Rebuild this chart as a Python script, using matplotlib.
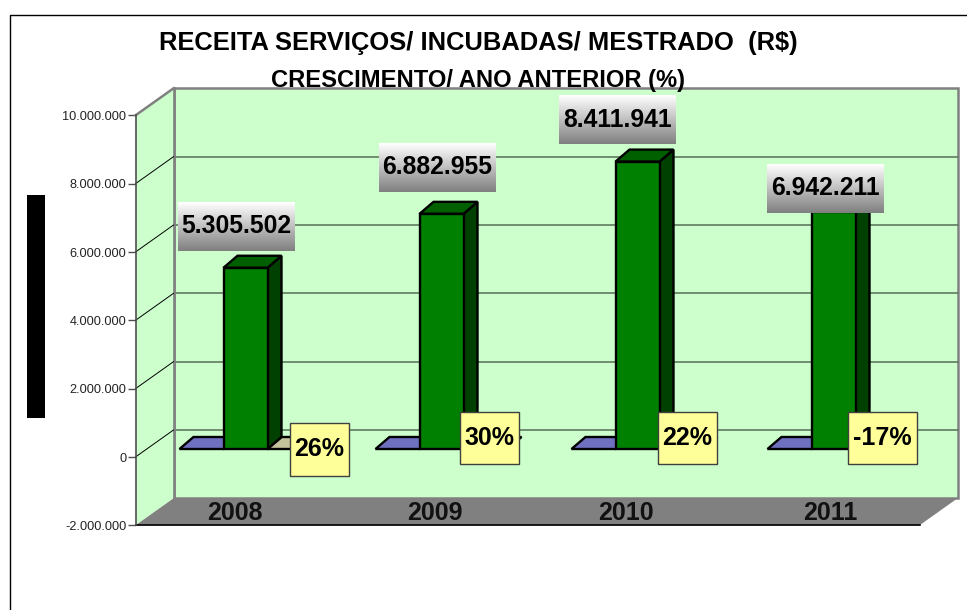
import matplotlib
matplotlib.use("Agg")
import matplotlib.pyplot as plt
import numpy as np
from matplotlib.patches import Polygon, Rectangle
from matplotlib.ticker import FuncFormatter
from matplotlib.transforms import Affine2D

plt.rcParams['font.family'] = ['Liberation Sans', 'DejaVu Sans']

years = ["2008", "2009", "2010", "2011"]
receita = [5305502, 6882955, 8411941, 6942211]
crescimento = [26, 30, 22, -17]
flat_series = [0, 0, 0, 0]  # the two other series are next to nothing on this scale
y_ticks = [-2000000, 0, 2000000, 4000000, 6000000, 8000000, 10000000]

W, H = 967, 610
PX_X = 1 / 196.0        # category units per pixel
PX_Y = 2000000 / 68.33  # reais per pixel

fig = plt.figure(figsize=(W / 100, H / 100), dpi=100)
ax = fig.add_axes([0, 0, 1, 1], facecolor="white")
left = -0.5 - 135.5 * PX_X
ax.set_xlim(left, left + W * PX_X)
ax.set_ylim((457 - H) * PX_Y, 457 * PX_Y)

# depth offsets, pixels
back = ax.transData + Affine2D().translate(38, 27)
mid = ax.transData + Affine2D().translate(12, 8)
BW = 44 * PX_X
BDX, BDY = 14 * PX_X, 12 * PX_Y
EDGE = 1.7


def poly(pts, fc, ec="none", lw=0, z=1, tr=None):
    ax.add_patch(Polygon(pts, closed=True, fc=fc, ec=ec, lw=lw, zorder=z,
                         transform=tr if tr is not None else ax.transData,
                         joinstyle="miter"))


x0, x1 = -0.5, 3.5
y0, y1 = -2000000, 10000000
DX, DY = 38 * PX_X, 27 * PX_Y

# walls and floor
poly([(x0, y0), (x1, y0), (x1, y1), (x0, y1)], "#CCFFCC", "#808080", 1.8, 1, back)
poly([(x0, y0), (x0 + DX, y0 + DY), (x0 + DX, y1 + DY), (x0, y1)], "#CCFFCC", z=1.5)
ax.plot([x0, x0 + DX], [y1, y1 + DY], color="#808080", lw=1.8, zorder=2)
ax.plot([x0 + DX, x0 + DX], [y0 + DY, y1 + DY], color="#808080", lw=1.8, zorder=2)
for t in y_ticks[1:-1]:
    ax.plot([x0, x1], [t, t], color="#5f7a5f", lw=1.2, zorder=1.2, transform=back)
    ax.plot([x0, x0 + DX], [t, t + DY], color="black", lw=0.7, zorder=2)
poly([(x0, y0), (x1, y0), (x1 + DX, y0 + DY), (x0 + DX, y0 + DY)], "#808080", z=2.5)
ax.plot([x0, x1], [y0, y0], color="black", lw=1.2, zorder=2.6)

# bars
for i, v in enumerate(receita):
    a = i - BW / 2
    b = i + BW / 2
    # flat purple and tan series on either side
    pa = a - BW
    poly([(pa, flat_series[i]), (a, flat_series[i]), (a + BDX, flat_series[i] + BDY),
          (pa + BDX, flat_series[i] + BDY)], "#7070C0", "black", EDGE, 3, mid)
    tb = b + BW
    poly([(b, flat_series[i]), (tb, flat_series[i]), (tb + BDX, flat_series[i] + BDY),
          (b + BDX, flat_series[i] + BDY)], "#C4C49C", "black", EDGE, 3, mid)
    # green bar: side, top, front
    poly([(b, 0), (b + BDX, BDY), (b + BDX, v + BDY), (b, v)], "#004000", "black", EDGE, 4, mid)
    poly([(a, v), (b, v), (b + BDX, v + BDY), (a + BDX, v + BDY)], "#006000", "black", EDGE, 4, mid)
    poly([(a, 0), (b, 0), (b, v), (a, v)], "#008000", "black", EDGE, 4.1, mid)

# y axis on the front edge of the side wall
for s in ["top", "right", "bottom"]:
    ax.spines[s].set_visible(False)
ax.spines["left"].set_position(("data", x0))
ax.spines["left"].set_bounds(y0, y1)
ax.spines["left"].set_color("#505050")
ax.spines["left"].set_linewidth(1.2)
ax.spines["left"].set_zorder(3)
ax.set_xticks([])
ax.set_yticks(y_ticks)
ax.yaxis.set_major_formatter(FuncFormatter(lambda v, p: f"{v:,.0f}".replace(",", ".")))
ax.tick_params(axis="y", length=6, width=1, color="#505050", pad=0.5, labelsize=9.2,
               labelcolor="#222222")

# value labels, offsets in pixels from the top of each bar
label_dx = [-9, -4, -20, -8]
label_dy = [17, 22, 17.6, -1]
grad = np.linspace(1, 0.5, 64).reshape(-1, 1)
for i, v in enumerate(receita):
    cx = i + (12 + label_dx[i]) * PX_X
    lo = v + (8 + label_dy[i]) * PX_Y
    hi = lo + 49 * PX_Y
    hw = 58.5 * PX_X
    ax.imshow(grad, cmap="gray", vmin=0, vmax=1, aspect="auto", zorder=6,
              extent=(cx - hw, cx + hw, lo, hi))
    ax.text(cx, (lo + hi) / 2, f"{v:,}".replace(",", "."), ha="center", va="center",
            fontsize=17.8, fontweight="bold", color="black", zorder=7)
ax.set_xlim(left, left + W * PX_X)
ax.set_ylim((457 - H) * PX_Y, 457 * PX_Y)

# growth labels
pct_cx = [319.5, 489.5, 687.5, 882.5]
pct_w = [59, 59, 59, 69]
pct_cy = [449.5, 438, 438, 438]
pct_h = [53, 52, 52, 52]
for i, g in enumerate(crescimento):
    cx = (pct_cx[i] - 135.5) * PX_X + x0
    cy = (457 - pct_cy[i]) * PX_Y
    w, h = pct_w[i] * PX_X, pct_h[i] * PX_Y
    ax.add_patch(Rectangle((cx - w / 2, cy - h / 2), w, h, fc="#FFFF99", ec="#404040",
                           lw=1, zorder=8))
    ax.text(cx, cy, f"{g}%", ha="center", va="center", fontsize=18,
            fontweight="bold", color="black", zorder=9)

# year labels on the floor
year_px = [235, 435, 626, 830]
for i, y in enumerate(years):
    ax.text((year_px[i] - 135.5) * PX_X + x0, (457 - 513) * PX_Y, y, ha="center",
            va="center", fontsize=18, fontweight="bold", color="#111111", zorder=5)

# outer frame and the black block on the left
fig.add_artist(plt.Line2D([10 / W, 10 / W, 1], [0, 1 - 15 / H, 1 - 15 / H], color="black", lw=1))
fig.add_artist(Rectangle((27 / W, 1 - 418 / H), 18 / W, 223 / H, fc="black", ec="none",
                         transform=fig.transFigure))

fig.text(478 / W, 1 - 43 / H, "RECEITA SERVIÇOS/ INCUBADAS/ MESTRADO  (R$)", ha="center",
         va="center", fontsize=18.4, fontweight="bold", color="black", zorder=10)
fig.text(478 / W, 1 - 80 / H, "CRESCIMENTO/ ANO ANTERIOR (%)", ha="center",
         va="center", fontsize=17.1, fontweight="bold", color="black", zorder=10)

fig.savefig("out.png", dpi=100)
